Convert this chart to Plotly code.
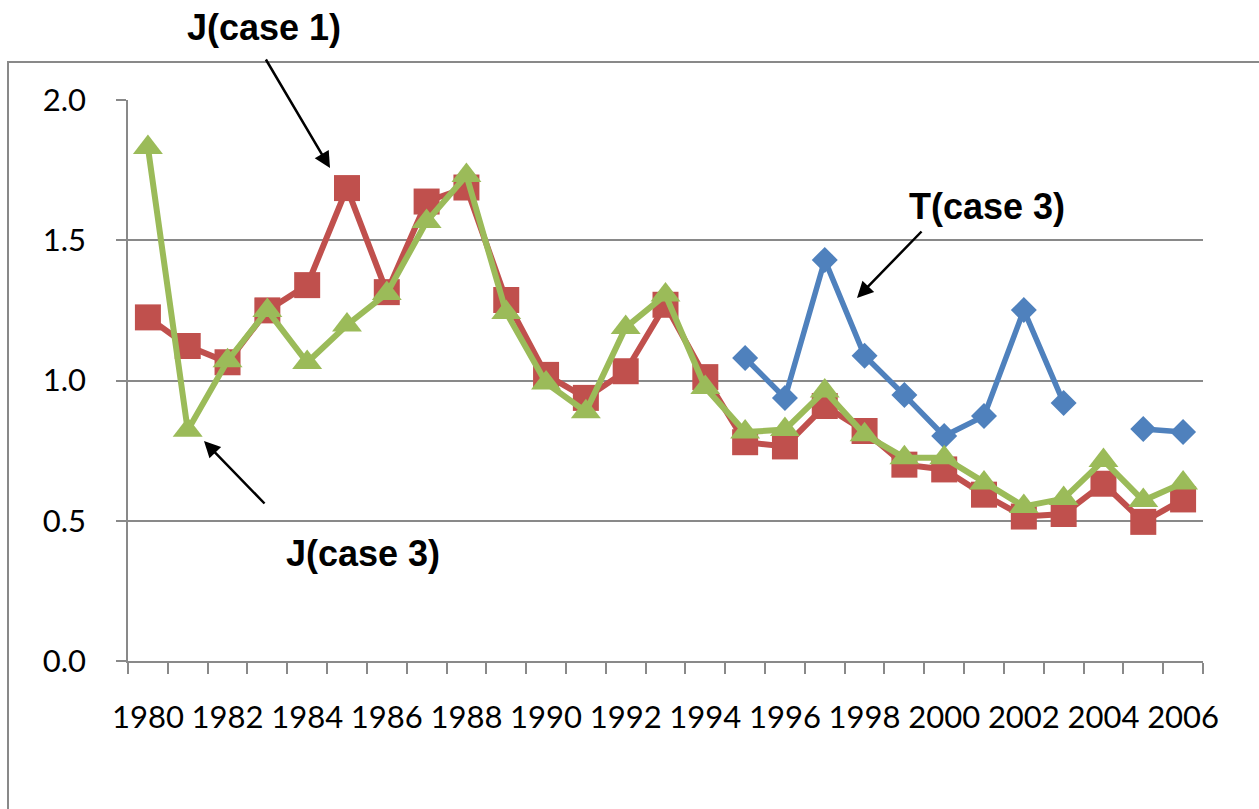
import plotly.graph_objects as go

# Annual series, 1980-2006
years = list(range(1980, 2007))

j_case1 = [1.225, 1.123, 1.065, 1.250, 1.340, 1.686, 1.315, 1.638, 1.688, 1.287,
           1.020, 0.938, 1.033, 1.270, 1.012, 0.780, 0.765, 0.909, 0.820, 0.700,
           0.683, 0.593, 0.515, 0.524, 0.632, 0.496, 0.576]

j_case3 = [1.831, 0.823, 1.070, 1.250, 1.064, 1.198, 1.310, 1.567, 1.731, 1.242,
           0.991, 0.889, 1.189, 1.305, 0.975, 0.816, 0.825, 0.963, 0.807, 0.725,
           0.725, 0.635, 0.551, 0.579, 0.715, 0.572, 0.635]

t_case3 = [None] * 15 + [1.080, 0.938, 1.430, 1.088, 0.948, 0.802, 0.873, 1.251,
                         0.920, None, 0.827, 0.816]

label_years = years[::2]
label_text = [str(y) for y in label_years]
y_ticks = [0.0, 0.5, 1.0, 1.5, 2.0]

BLUE = "#4F81BD"
RED = "#C0504D"
GREEN = "#9BBB59"
GRID = "#898989"

fig = go.Figure()

fig.add_trace(go.Scatter(
    x=years, y=t_case3, mode="lines+markers", connectgaps=False,
    line=dict(color=BLUE, width=5.5),
    marker=dict(symbol="diamond", size=20, color=BLUE, line=dict(width=0)),
    name="T(case 3)"))

fig.add_trace(go.Scatter(
    x=years, y=j_case1, mode="lines+markers",
    line=dict(color=RED, width=6),
    marker=dict(symbol="square", size=26, color=RED, line=dict(width=0)),
    name="J(case 1)"))

fig.add_trace(go.Scatter(
    x=years, y=j_case3, mode="lines+markers",
    line=dict(color=GREEN, width=6),
    marker=dict(symbol="triangle-up", size=26, color=GREEN, line=dict(width=0)),
    name="J(case 3)"))

# Plot area occupies pixels x 128..1203, y 100..661
L, R, T, B = 128, 56, 100, 148
W, H = 1259 - L - R, 809 - T - B


def px(x):
    return (x - L) / W


def py(y):
    return (809 - B - y) / H


TICK_FONT = dict(family="Lato, Liberation Sans, sans-serif", size=31, color="black")

fig.update_layout(
    width=1259, height=809,
    margin=dict(l=L, r=R, t=T, b=B),
    paper_bgcolor="white", plot_bgcolor="white",
    showlegend=False,
    font=TICK_FONT,
)

fig.update_xaxes(
    range=[1979.5, 2006.5],
    tickvals=label_years, ticktext=label_text,
    ticks="", ticklabelstandoff=28,
    showgrid=False, zeroline=False,
    showline=True, linecolor=GRID, linewidth=1.5,
    minor=dict(tick0=1979.5, dtick=1, ticks="outside", ticklen=11,
               tickcolor=GRID, tickwidth=1.5, showgrid=False),
    tickfont=TICK_FONT,
)

fig.update_yaxes(
    range=[0, 2],
    tickvals=y_ticks, tickformat=".1f",
    ticks="outside", ticklen=10, tickcolor=GRID, tickwidth=1.5,
    ticklabelstandoff=24,
    showgrid=True, gridcolor=GRID, gridwidth=1.5,
    zeroline=False,
    showline=True, linecolor=GRID, linewidth=1.5,
    tickfont=TICK_FONT,
)

# Chart frame
fig.add_shape(type="rect", xref="paper", yref="paper",
              x0=px(8), x1=px(1275), y0=py(830), y1=py(62),
              line=dict(color=GRID, width=2), fillcolor="rgba(0,0,0,0)",
              layer="below")

label_font = dict(family="Liberation Sans, Arial, sans-serif", size=36, color="black")

# Callout labels
for text, cx, cy in [("J(case 1)", 264, 27), ("T(case 3)", 987, 207), ("J(case 3)", 363, 553)]:
    fig.add_annotation(xref="paper", yref="paper", x=px(cx), y=py(cy),
                       text=f"<b>{text}</b>", showarrow=False, font=label_font,
                       xanchor="center", yanchor="middle")

# Callout arrows (tip, tail)
for (tx, ty), (sx, sy) in [((330, 168), (265, 58)),
                           ((857, 298), (923, 230)),
                           ((204, 441), (266, 505))]:
    fig.add_annotation(xref="paper", yref="paper", x=px(tx), y=py(ty),
                       ax=sx - tx, ay=sy - ty, text="", showarrow=True,
                       arrowhead=2, arrowsize=1.3, arrowwidth=2.5, arrowcolor="black")

fig.write_html("out.html")
